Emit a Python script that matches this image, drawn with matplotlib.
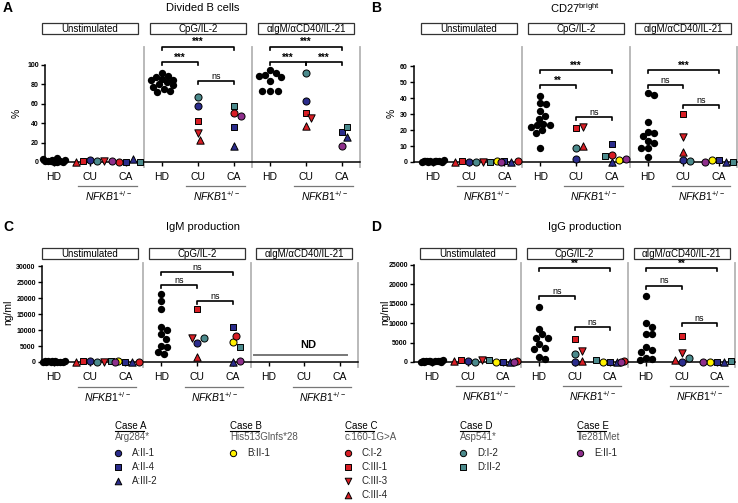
import matplotlib
matplotlib.use("Agg")
import matplotlib.pyplot as plt
import matplotlib.transforms as mtransforms
import numpy as np

plt.rcParams["font.family"] = ["Liberation Sans", "DejaVu Sans"]
plt.rcParams["mathtext.fontset"] = "custom"
plt.rcParams["mathtext.rm"] = "Liberation Sans"
plt.rcParams["mathtext.it"] = "Liberation Sans:italic"
plt.rcParams["mathtext.bf"] = "Liberation Sans:bold"

# ---- data -------------------------------------------------------------
stimulations = ["Unstimulated", "CpG/IL-2", "\u03b1IgM/\u03b1CD40/IL-21"]
groups = ["HD", "CU", "CA"]

cu_ids = ["A:II-1", "D:I-2", "C:III-1", "C:III-3", "C:III-4"]
ca_ids = ["A:II-4", "A:III-2", "B:II-1", "C:I-2", "D:II-2", "E:II-1"]

# Divided B cells (%)
div_hd = [[0.5, 1, 1.5, 2, 3, 4, 0.3, 0.8, 1.2, 2.5, 0, 1],
          [92, 89, 88, 86, 85, 84, 82, 80, 79, 77, 75, 73, 72],
          [95, 92, 90, 89, 88, 83, 73, 73, 73]]
div_cu = [[2.5, 1, 1, 1, 0.5],
          [58, 67, 42, 30, 23],
          [63, 92, 50, 45, 37]]
div_ca = [[0.5, 3, None, 0.5, 0.3, 1],
          [36, 16, None, 50, 58, 47],
          [31, 26, None, None, 36, 16]]

# CD27 bright (%)
cd27_hd = [[0.3, 0.5, 0.8, 1, 0.2, 0.6, 0.4, 0.9, 0.3, 0.5, 0.7, 0.2],
           [41, 37, 36, 32, 29, 27, 24, 23, 23, 22, 20, 18, 9],
           [43, 42, 25, 19, 18, 16, 13, 12, 9, 8.5, 3]]
cd27_cu = [[0.3, 0.3, 0.5, 0.3, 0.3],
           [2, 9, 21.5, 22, 10],
           [1, 0.5, 30, 15.5, 6]]
cd27_ca = [[0.5, 0.3, 0.5, 0.5, 0.3, 0.3],
           [11, 0, 1, 4.5, 4, 2],
           [1, 0.3, 1, None, 0.3, 0.3]]

# IgM production (ng/ml); no data for aIgM/aCD40/IL-21 (ND)
igm_hd = [[100, 150, 200, 250, 50, 80, 120, 300, 60, 90, 180, 220],
          [21200, 19200, 16500, 10800, 10100, 8700, 7200, 4900, 4700, 3100, 2600],
          []]
igm_cu = [[200, 100, 300, 100, 50],
          [6000, 7400, 16500, 7500, 1500],
          [None, None, None, None, None]]
igm_ca = [[100, 50, 200, 100, 400, 100],
          [11000, 0, 6100, 8100, 4700, 300],
          [None, None, None, None, None, None]]

# IgG production (ng/ml)
igg_hd = [[100, 200, 300, 400, 50, 150, 250, 350, 80, 120, 220, 320],
          [14200, 8600, 7200, 6300, 6300, 4600, 3600, 3400, 1300, 900],
          [17000, 10000, 9000, 7100, 7100, 3900, 3200, 2700, 1100, 900, 400]]
igg_cu = [[200, 100, 500, 600, 300],
          [0, 2000, 5800, 2800, 300],
          [0, 1100, 6800, 2300, 500]]
igg_ca = [[100, 0, 100, 200, 600, 100],
          [100, 0, 100, 200, 600, 100],
          [100, 0, 100, None, 200, 100]]

# legend
cases = ["Case A", "Case B", "Case C", "Case D", "Case E"]
mutations = ["Arg284*", "His513Glnfs*28", "c.160-1G>A", "Asp541*", "Ile281Met"]
case_members = [["A:II-1", "A:II-4", "A:III-2"], ["B:II-1"],
                ["C:I-2", "C:III-1", "C:III-3", "C:III-4"],
                ["D:I-2", "D:II-2"], ["E:II-1"]]

# ---- styles -----------------------------------------------------------
case_color = {"A": "#2b2c8c", "B": "#fff200", "C": "#d91e25",
              "D": "#4b8a8c", "E": "#8e2f8c"}
pid_marker = {"A:II-1": "o", "A:II-4": "s", "A:III-2": "^", "B:II-1": "o",
              "C:I-2": "o", "C:III-1": "s", "C:III-3": "v", "C:III-4": "^",
              "D:I-2": "o", "D:II-2": "s", "E:II-1": "o"}
marker_size = {"o": 26, "s": 24, "^": 28, "v": 28}

W, H = 738, 503
fig = plt.figure(figsize=(W / 100, H / 100), dpi=100)
lay = fig.add_axes([0, 0, 1, 1])
lay.set_xlim(0, W)
lay.set_ylim(H, 0)
lay.axis("off")
pix_y = mtransforms.Affine2D().scale(1, -1).translate(0, H)


def swarm_offsets(ax, x0, ys, diam, max_px):
    pts = ax.transData.transform(np.column_stack([np.full(len(ys), x0), ys]))
    step = diam / 4.0
    cands = [0.0]
    k = 1
    while k * step <= max_px:
        cands += [k * step, -k * step]
        k += 1
    placed, out = [], []
    for px, py in pts:
        choice, best_d = 0.0, -1
        for c in cands:
            if not placed:
                choice = c
                break
            d = min(np.hypot(px + c - qx, py - qy) for qx, qy in placed)
            if d >= diam:
                choice = c
                break
            if d > best_d:
                best_d, choice = d, c
        placed.append((px + choice, py))
        out.append(choice)
    ppu = ax.transData.transform((1, 0))[0] - ax.transData.transform((0, 0))[0]
    return np.array(out) / ppu


def draw_panel(box, xleft, yticks, ytop, hd, cu, ca, brackets,
               header_top, under_y, text_y, nd=None):
    left, top, right, bottom = box
    ax = fig.add_axes([left / W, 1 - bottom / H, (right - left) / W, (bottom - top) / H])
    ax.patch.set_visible(False)
    ax.set_xlim(xleft, 8.5)
    ax.set_ylim(0, ytop)
    for s in ["top", "right"]:
        ax.spines[s].set_visible(False)
    ax.spines["left"].set_bounds(0, yticks[-1])
    ax.spines["left"].set_linewidth(1.1)
    ax.spines["bottom"].set_linewidth(1.1)
    ax.set_yticks(yticks)
    ax.tick_params(axis="y", length=3, width=1, labelsize=5, pad=1.5)
    for lab in ax.get_yticklabels():
        lab.set_fontweight("bold")
    ax.set_xticks(range(9))
    ax.set_xticklabels(groups * 3)
    ax.tick_params(axis="x", length=3, width=1, labelsize=7.5, pad=4)

    ppy = (bottom - top) / ytop
    ppx = (right - left) / (8.5 - xleft)
    trans = mtransforms.blended_transform_factory(ax.transData, pix_y)

    for xs in [2.5, 5.5, 8.5]:
        ax.plot([xs, xs], [-5 / ppy, ytop], color="#b4b4b4", lw=1.3,
                clip_on=False, zorder=1)

    for g in range(3):
        xc = 3 * g + 1
        w = 96 / ppx
        ax.add_patch(plt.Rectangle((xc - w / 2, header_top + 11), w, -11,
                                   transform=trans, fill=False, lw=0.9,
                                   edgecolor="#333333", clip_on=False))
        ax.text(xc, header_top + 5.8, stimulations[g], transform=trans,
                ha="center", va="center", fontsize=7)
        ax.plot([3 * g + 0.67, 3 * g + 2.3], [under_y, under_y], color="#777777",
                lw=0.9, transform=trans, clip_on=False)
        ax.text(3 * g + 1.5, text_y, r"$\mathit{NFKB1}^{+/-}$", transform=trans,
                ha="center", va="center", fontsize=7.5)

        if hd[g]:
            off = swarm_offsets(ax, 3 * g, hd[g], 6.2, 12)
            ax.scatter(3 * g + off, hd[g], s=28, color="black", lw=0,
                       clip_on=False, zorder=3)
        for x0, ids, vals in [(3 * g + 1, cu_ids, cu[g]), (3 * g + 2, ca_ids, ca[g])]:
            pts = [(p, v) for p, v in zip(ids, vals) if v is not None]
            if not pts:
                continue
            off = swarm_offsets(ax, x0, [v for _, v in pts], 7, 14)
            for (p, v), o in zip(pts, off):
                m = pid_marker[p]
                ax.scatter(x0 + o, v, s=marker_size[m], marker=m,
                           color=case_color[p[0]], edgecolors="black",
                           linewidths=0.7, clip_on=False, zorder=4)

    tick = 3 / ppy
    for x1, x2, y, label in brackets:
        ax.plot([x1, x1, x2, x2], [y - tick, y, y, y - tick], color="black",
                lw=1.2, clip_on=False, zorder=2)
        if label == "ns":
            ax.text((x1 + x2) / 2, y + 0.5 / ppy, label, ha="center",
                    va="bottom", fontsize=6.5)
        else:
            ax.text((x1 + x2) / 2, y - 0.5 / ppy, label, ha="center",
                    va="bottom", fontsize=7, fontweight="bold")

    if nd is not None:
        ax.plot([5.6, 8.2], [nd, nd], color="#777777", lw=1.4)
        ax.text(7.1, nd + 5 / ppy, "ND", ha="center", va="bottom",
                fontsize=8, fontweight="bold")
    return ax


draw_panel((45, 47, 360, 162), -0.25, [0, 20, 40, 60, 80, 100], 118.5,
           div_hd, div_cu, div_ca,
           [(3, 5, 119, "***"), (3, 4, 103, "***"), (4, 5, 83, "ns"),
            (6, 8, 119, "***"), (6, 7, 103, "***"), (7, 8, 103, "***")],
           23, 186, 196)
draw_panel((414, 47, 737, 162), -0.53, [0, 10, 20, 30, 40, 50, 60], 71.9,
           cd27_hd, cd27_cu, cd27_ca,
           [(3, 5, 57.5, "***"), (3, 4, 48, "**"), (4, 5, 28, "ns"),
            (6, 8, 57.5, "***"), (6, 7, 48, "ns"), (7, 8, 35.6, "ns")],
           23, 186, 196)
draw_panel((42, 263, 358, 362), -0.33, [0, 5000, 10000, 15000, 20000, 25000, 30000],
           30940, igm_hd, igm_cu, igm_ca,
           [(3, 5, 28100, "ns"), (3, 4, 24000, "ns"), (4, 5, 19000, "ns")],
           248, 387, 397, nd=2080)
draw_panel((414, 263, 735, 362), -0.5, [0, 5000, 10000, 15000, 20000, 25000],
           25500, igg_hd, igg_cu, igg_ca,
           [(3, 5, 24200, "**"), (3, 4, 17000, "ns"), (4, 5, 9000, "ns"),
            (6, 8, 24200, "**"), (6, 7, 19600, "ns"), (7, 8, 10000, "ns")],
           248, 386, 396)

# titles, panel letters, y labels
for x, y, t in [(203, 8, "Divided B cells"), (575, 8, r"CD27$^{\mathrm{bright}}$"),
                (203, 227, "IgM production"), (585, 227, "IgG production")]:
    lay.text(x, y, t, ha="center", va="center", fontsize=8)
for x, y, t in [(8, 8, "A"), (376, 8, "B"), (8, 227, "C"), (376, 227, "D")]:
    lay.text(x, y, t, ha="center", va="center", fontsize=10, fontweight="bold")
for x, y, t in [(17, 113, "%"), (392, 113, "%"), (8, 312, "ng/ml"), (385, 312, "ng/ml")]:
    lay.text(x, y, t, ha="center", va="center", fontsize=7.5, rotation=90)

# legend
col_x = [115, 230, 345, 460, 577]
row_y = [453, 467, 481, 495]
for cx, case, mut, members in zip(col_x, cases, mutations, case_members):
    lay.text(cx, 426, case, ha="left", va="center", fontsize=7)
    lay.plot([cx, cx + 29], [431, 431], color="black", lw=0.8)
    lay.text(cx, 437, mut, ha="left", va="center", fontsize=7, color="#555555")
    for ry, p in zip(row_y, members):
        m = pid_marker[p]
        lay.scatter(cx + 3, ry, s=marker_size[m] * 0.8, marker=m,
                    color=case_color[p[0]], edgecolors="black", linewidths=0.7,
                    clip_on=False)
        lay.text(cx + 17, ry, p, ha="left", va="center", fontsize=7, color="#222222")

fig.savefig("out.png", dpi=100)
